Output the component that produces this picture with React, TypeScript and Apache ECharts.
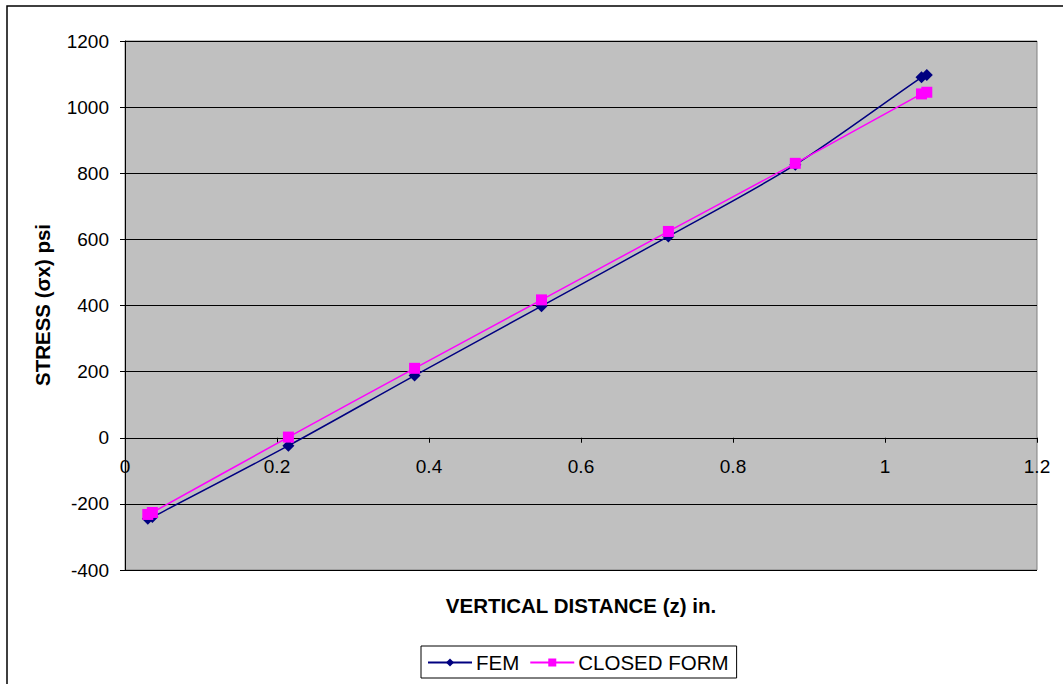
import React, { useEffect, useRef } from "react";
import * as echarts from "echarts";

// Vertical distance through the section (in.)
const zValues = [0.03, 0.036, 0.215, 0.381, 0.548, 0.715, 0.882, 1.048, 1.055];
// Bending stress from the finite element model (psi)
const femStress = [-245, -240, -24, 188, 398, 609, 826, 1090, 1097];
// Bending stress from the closed-form solution (psi)
const closedStress = [-232, -226, 2, 210, 417, 624, 830, 1040, 1045];

const yTicks = { min: -400, max: 1200, step: 200 };
const xTicks = { min: 0, max: 1.2, step: 0.2 };

const FONT = "'Liberation Sans', Arial, sans-serif";

const GRID = { left: 125, top: 41, right: 26, bottom: 114 };
const HEIGHT = 684;

export default function App() {
  const ref = useRef<HTMLDivElement>(null);

  useEffect(() => {
    if (!ref.current) return;
    const chart = echarts.init(ref.current, undefined, { renderer: "svg" });
    const pairs = (ys: number[]) => zValues.map((z, i) => [z, ys[i]]);

    // The distance axis crosses the stress axis at zero: shift it up from the grid bottom.
    const plotH = HEIGHT - GRID.top - GRID.bottom;
    const zeroShift = (plotH * (0 - yTicks.min)) / (yTicks.max - yTicks.min);

    chart.setOption({
      animation: false,
      backgroundColor: "#ffffff",
      textStyle: { fontFamily: FONT },
      grid: {
        ...GRID,
        show: true,
        backgroundColor: "#C0C0C0",
        borderColor: "#808080",
        borderWidth: 1,
      },
      xAxis: {
        type: "value",
        min: xTicks.min,
        max: xTicks.max,
        interval: xTicks.step,
        offset: -zeroShift,
        axisLine: { onZero: false, lineStyle: { color: "#000", width: 1 } },
        axisTick: { show: true, length: 5, lineStyle: { color: "#000" } },
        axisLabel: {
          color: "#000",
          fontSize: 19,
          fontFamily: FONT,
          margin: 19,
          formatter: (v: number) => String(Math.round(v * 10) / 10),
        },
        splitLine: { show: false },
      },
      yAxis: {
        type: "value",
        min: yTicks.min,
        max: yTicks.max,
        interval: yTicks.step,
        axisLine: { show: true, lineStyle: { color: "#000", width: 1 } },
        axisTick: { show: true, length: 5, lineStyle: { color: "#000" } },
        axisLabel: {
          color: "#000",
          fontSize: 19,
          fontFamily: FONT,
          margin: 16,
          formatter: (v: number) => String(v),
        },
        splitLine: { show: true, lineStyle: { color: "#000", width: 1 } },
      },
      legend: {
        left: 421,
        top: 646,
        orient: "horizontal",
        itemWidth: 44,
        itemHeight: 10,
        itemGap: 10,
        padding: [6, 8, 5, 6],
        borderColor: "#000",
        borderWidth: 1,
        textStyle: { color: "#000", fontSize: 20.5, fontFamily: FONT, padding: [0, 0, 0, -1] },
        data: ["FEM", "CLOSED FORM"],
      },
      graphic: [
        {
          type: "rect",
          shape: { x: 7, y: 6, width: 1070, height: 700 },
          style: { fill: "none", stroke: "#000", lineWidth: 1.5 },
          silent: true,
        },
        {
          type: "text",
          x: 581,
          y: 605,
          style: {
            text: "VERTICAL DISTANCE (z) in.",
            fontFamily: FONT,
            fontWeight: "bold",
            fontSize: 20.5,
            fill: "#000",
            align: "center",
            verticalAlign: "middle",
          },
        },
        {
          type: "text",
          x: 42,
          y: 305,
          rotation: Math.PI / 2,
          style: {
            text: "STRESS (σx) psi",
            fontFamily: FONT,
            fontWeight: "bold",
            fontSize: 20.5,
            fill: "#000",
            align: "center",
            verticalAlign: "middle",
          },
        },
      ],
      series: [
        {
          name: "FEM",
          type: "line",
          data: pairs(femStress),
          smooth: 0.3,
          symbol: "diamond",
          symbolSize: 12,
          lineStyle: { color: "#000080", width: 1.5 },
          itemStyle: { color: "#000080" },
          z: 2,
        },
        {
          name: "CLOSED FORM",
          type: "line",
          data: pairs(closedStress),
          smooth: 0.3,
          symbol: "rect",
          symbolSize: 11,
          lineStyle: { color: "#FF00FF", width: 1.5 },
          itemStyle: { color: "#FF00FF" },
          z: 3,
        },
      ],
    });

    return () => chart.dispose();
  }, []);

  return (
    <div
      ref={ref}
      style={{ position: "fixed", left: 0, top: 0, width: 1063, height: HEIGHT }}
    />
  );
}
